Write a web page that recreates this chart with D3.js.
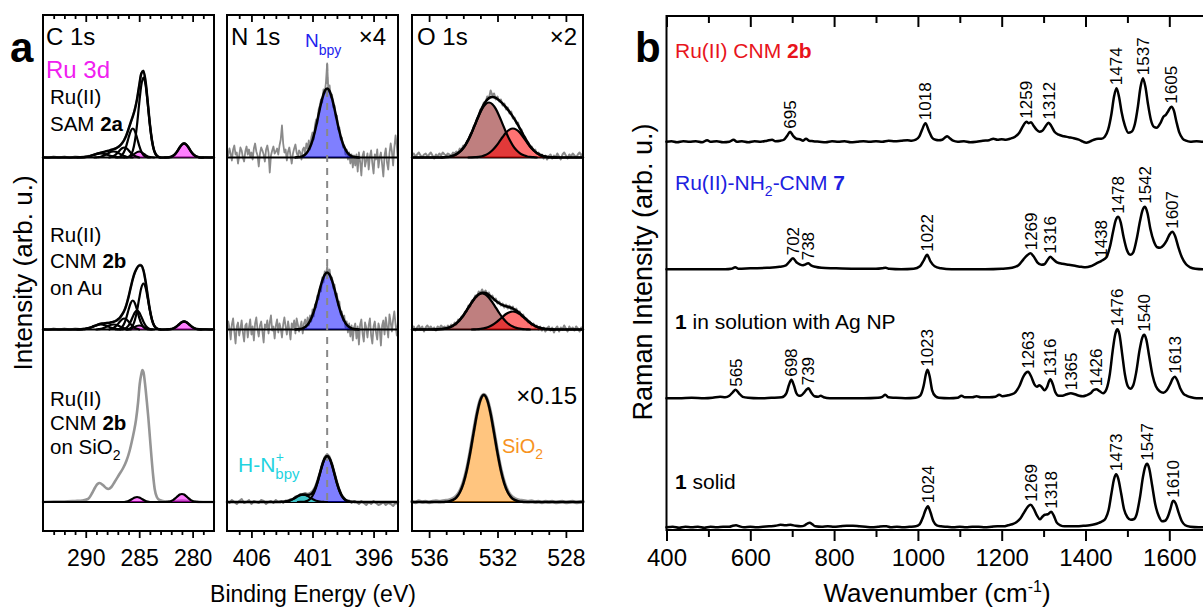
<!DOCTYPE html>
<html>
<head>
<meta charset="utf-8">
<script src="https://cdn.jsdelivr.net/npm/d3@7"></script>
<style>
html,body{margin:0;padding:0;background:#fff;}
svg{display:block;font-family:"Liberation Sans",Arial,Helvetica,sans-serif;}
</style>
</head>
<body>
<svg id="fig" width="1203" height="608"></svg>
<script>
// ================= panel a: XPS (binding energy in eV, intensity in arb. units) =================
const c1sRange = [294, 278], n1sRange = [408, 394], o1sRange = [537, 527];
const c1sTickLabels = [290, 285, 280];
const n1sTickLabels = [406, 401, 396];
const o1sTickLabels = [536, 532, 528];

// --- C 1s, Ru(II) SAM 2a ---
const c1sR1Data = [[294,0.5],[293.5,-0.5],[293,1],[292.5,0],[292,1],[291.5,-0.5],[291,1],[290.5,0.5],[290,1.2],[289.5,2],[289,3.8],[288.5,5.2],[288,6.8],[287.5,8],[287,10.5],[286.5,16],[286,28.5],[285.6,41],[285.2,58.5],[284.8,84],[284.6,87],[284.4,76],[284.0,34],[283.6,7],[283.2,1],[282.8,-0.5],[282.4,0.5],[282,0],[281.6,4],[281.2,10.5],[280.8,14.5],[280.4,10.5],[280,4],[279.6,1],[279.2,-0.5],[278.8,0.5],[278.4,0],[278,0.5]];
const c1sR1Comps = [
  [[283.0,0],[283.2,0.6],[283.4,2.3],[283.6,6.8],[283.8,16.5],[284.0,32.9],[284.2,53.9],[284.4,72.5],[284.6,80],[284.8,72.5],[285.0,53.9],[285.2,32.9],[285.4,16.5],[285.6,6.8],[285.8,2.3],[286.0,0.6],[286.2,0]],
  [[284.0,0],[284.2,0.2],[284.4,0.8],[284.6,2.5],[284.8,6.0],[285.0,11.9],[285.2,19.5],[285.4,26.3],[285.6,29],[285.8,26.3],[286.0,19.5],[286.2,11.9],[286.4,6.0],[286.6,2.5],[286.8,0.8],[287.0,0.2],[287.2,0]],
  [[285.0,0],[285.2,0.6],[285.4,1.4],[285.6,2.8],[285.8,4.9],[286.0,7.3],[286.2,9.2],[286.4,10],[286.6,9.2],[286.8,7.3],[287.0,4.9],[287.2,2.8],[287.4,1.4],[287.6,0.6],[287.8,0]],
  [[285.6,0],[285.8,0.2],[286.0,0.4],[286.2,0.8],[286.4,1.5],[286.6,2.5],[286.8,3.6],[287.0,4.8],[287.2,5.7],[287.4,6],[287.6,5.7],[287.8,4.8],[288.0,3.6],[288.2,2.5],[288.4,1.5],[288.6,0.8],[288.8,0.4],[289.0,0.2],[289.2,0]],
  [[286.4,0],[286.8,0.15],[287.2,0.54],[287.6,1.44],[288.0,2.8],[288.2,3.4],[288.4,3.84],[288.6,4],[288.8,3.84],[289.0,3.4],[289.2,2.8],[289.6,1.44],[290.0,0.54],[290.4,0.15],[290.8,0]]
];
const c1sR1Ru = [
  [[283.6,0],[283.8,0.2],[284.0,0.5],[284.2,1.2],[284.4,2.5],[284.6,4.0],[284.8,5.4],[285.0,6],[285.2,5.4],[285.4,4.0],[285.6,2.5],[285.8,1.2],[286.0,0.5],[286.2,0.2],[286.4,0]],
  [[279.0,0],[279.2,0.1],[279.4,0.3],[279.6,0.8],[279.8,1.9],[280.0,3.9],[280.2,6.8],[280.4,10.2],[280.6,12.9],[280.8,14],[281.0,12.9],[281.2,10.2],[281.4,6.8],[281.6,3.9],[281.8,1.9],[282.0,0.8],[282.2,0.3],[282.4,0.1],[282.6,0]]
];
const c1sR1Env = [[278,0],[279.2,0.1],[279.4,0.3],[279.6,0.8],[279.8,1.9],[280.0,3.9],[280.2,6.8],[280.4,10.2],[280.6,12.9],[280.8,14],[281.0,12.9],[281.2,10.2],[281.4,6.8],[281.6,3.9],[281.8,1.9],[282.0,0.8],[282.2,0.3],[282.4,0.1],[282.8,0],[283.0,0.1],[283.2,0.6],[283.4,2.3],[283.6,6.8],[283.8,16.7],[284.0,33.4],[284.2,55.3],[284.4,75.8],[284.6,86.5],[284.8,83.9],[285.0,71.8],[285.2,58.4],[285.4,48.2],[285.6,41.1],[285.8,34.9],[286.0,28.3],[286.2,22.1],[286.4,17.5],[286.6,14.3],[286.8,11.9],[287.0,10.2],[287.2,9.0],[287.4,8.3],[287.6,7.7],[287.8,6.9],[288.0,6.4],[288.2,5.9],[288.4,5.3],[288.6,4.8],[288.8,4.2],[289.0,3.6],[289.2,2.8],[289.4,2.1],[289.6,1.4],[289.8,0.9],[290.0,0.5],[290.4,0.15],[291,0],[294,0]];

// --- C 1s, Ru(II) CNM 2b on Au ---
const c1sR2Data = [[294,0.5],[293.5,-0.5],[293,1],[292.5,0],[292,1],[291.5,0],[291,1],[290.5,0.5],[290,1.2],[289.5,2.2],[289,4.5],[288.5,6],[288,6.8],[287.5,7.5],[287,10.5],[286.5,16.5],[286,32.5],[285.6,50.5],[285.2,61.5],[284.9,65],[284.6,59.5],[284.4,48],[284.0,20],[283.6,4],[283.2,0.5],[282.8,-0.5],[282.4,0.5],[282,0.5],[281.6,2.5],[281.2,6],[280.8,8.5],[280.4,6],[280,2.5],[279.6,0.5],[279.2,-0.5],[278.8,0.5],[278.4,0],[278,0.5]];
const c1sR2Comps = [
  [[283.0,0],[283.2,0.4],[283.4,1.3],[283.6,3.9],[283.8,9.5],[284.0,18.9],[284.2,31.0],[284.4,41.7],[284.6,46],[284.8,41.7],[285.0,31.0],[285.2,18.9],[285.4,9.5],[285.6,3.9],[285.8,1.3],[286.0,0.4],[286.2,0]],
  [[283.6,0],[283.8,0.15],[284.0,0.5],[284.2,1.6],[284.4,3.9],[284.6,7.8],[284.8,12.8],[285.0,17.2],[285.2,19],[285.4,17.2],[285.6,12.8],[285.8,7.8],[286.0,3.9],[286.2,1.6],[286.4,0.5],[286.6,0.15],[286.8,0]],
  [[284.0,0],[284.2,0.2],[284.4,0.8],[284.6,2.5],[284.8,6.0],[285.0,11.9],[285.2,19.5],[285.4,26.3],[285.6,29],[285.8,26.3],[286.0,19.5],[286.2,11.9],[286.4,6.0],[286.6,2.5],[286.8,0.8],[287.0,0.2],[287.2,0]],
  [[285.0,0],[285.2,0.7],[285.4,1.5],[285.6,3.1],[285.8,5.4],[286.0,8.0],[286.2,10.2],[286.4,11],[286.6,10.2],[286.8,8.0],[287.0,5.4],[287.2,3.1],[287.4,1.5],[287.6,0.7],[287.8,0]],
  [[285.8,0],[286.0,0.3],[286.2,0.7],[286.4,1.2],[286.6,2.1],[286.8,3.0],[287.0,4.0],[287.2,4.7],[287.4,5],[287.6,4.7],[287.8,4.0],[288.0,3.0],[288.2,2.1],[288.4,1.2],[288.6,0.7],[288.8,0.3],[289.0,0]],
  [[286.8,0],[287.0,0.4],[287.2,0.7],[287.4,1.2],[287.6,1.8],[287.8,2.6],[288.0,3.5],[288.2,4.2],[288.4,4.8],[288.6,5],[288.8,4.8],[289.0,4.2],[289.2,3.5],[289.4,2.6],[289.6,1.8],[289.8,1.2],[290.0,0.7],[290.2,0.4],[290.6,0.1],[290.8,0]]
];
const c1sR2Ru = [
  [[283.8,0],[284.0,0.3],[284.2,0.8],[284.4,1.6],[284.6,2.7],[284.8,3.6],[285.0,4],[285.2,3.6],[285.4,2.7],[285.6,1.6],[285.8,0.8],[286.0,0.3],[286.2,0]],
  [[279.2,0],[279.4,0.2],[279.6,0.4],[279.8,1.1],[280.0,2.2],[280.2,3.9],[280.4,5.8],[280.6,7.4],[280.8,8],[281.0,7.4],[281.2,5.8],[281.4,3.9],[281.6,2.2],[281.8,1.1],[282.0,0.4],[282.2,0.2],[282.4,0]]
];
const c1sR2Env = [[278,0],[279.4,0.2],[279.6,0.4],[279.8,1.1],[280.0,2.2],[280.2,3.9],[280.4,5.8],[280.6,7.4],[280.8,8],[281.0,7.4],[281.2,5.8],[281.4,3.9],[281.6,2.2],[281.8,1.1],[282.0,0.4],[282.2,0.2],[282.8,0],[283.0,0.1],[283.2,0.4],[283.4,1.3],[283.6,3.9],[283.8,9.7],[284.0,19.7],[284.2,33.6],[284.4,48.0],[284.6,59.0],[284.8,64.1],[285.0,64.1],[285.2,61.7],[285.4,57.2],[285.6,50.4],[285.8,41.6],[286.0,32.4],[286.2,24.4],[286.4,18.7],[286.6,15.0],[286.8,11.8],[287.0,10.0],[287.2,8.5],[287.4,7.7],[287.6,7.2],[287.8,6.6],[288.0,6.5],[288.2,6.3],[288.4,6.0],[288.6,5.7],[288.8,5.1],[289.0,4.2],[289.2,3.5],[289.4,2.6],[289.6,1.8],[289.8,1.2],[290.0,0.7],[290.2,0.4],[290.6,0.1],[291,0],[294,0]];

// --- C 1s, Ru(II) CNM 2b on SiO2 ---
const c1sR3Data = [[294,0],[293,0.5],[292,0.5],[291,1],[290.3,1.5],[289.8,3],[289.4,9],[289.1,15],[288.9,18],[288.7,19],[288.4,17],[288.1,14],[287.9,13],[287.6,15],[287.3,20],[286.9,27],[286.5,34],[286.2,41],[285.9,51],[285.7,60],[285.5,70],[285.3,82],[285.1,100],[284.95,118],[284.8,128],[284.7,132],[284.6,130],[284.45,118],[284.3,102],[284.15,85],[284.0,65],[283.85,45],[283.7,27],[283.55,13],[283.35,5],[283.1,2],[282.5,0.5],[282,0.5],[281.5,1],[281,1.5],[280.5,1],[280,0.5],[279,0],[278,0]];
const c1sR3Ru = [
  [[284.0,0],[284.2,0.4],[284.4,1.0],[284.6,2.1],[284.8,3.4],[285.0,4.5],[285.2,5],[285.4,4.5],[285.6,3.4],[285.8,2.1],[286.0,1.0],[286.2,0.4],[286.4,0]],
  [[279.4,0],[279.6,0.2],[279.8,0.4],[280.0,1.1],[280.2,2.2],[280.4,3.9],[280.6,5.8],[280.8,7.4],[281.0,8],[281.2,7.4],[281.4,5.8],[281.6,3.9],[281.8,2.2],[282.0,1.1],[282.2,0.4],[282.4,0.2],[282.6,0]]
];

// --- N 1s (measured data on a 0.1 eV / 0.2 eV grid starting at 408 eV) ---
const n1sR1Data = [6,2,9,4,-3,8,12,3,5,-6,2,10,7,0,-4,6,11,3,8,1,
  5,-2,9,14,6,2,-9,4,10,7,3,-4,8,12,5,-15,2,7,11,4,
  6,9,3,12,18,32,14,5,8,-3,6,10,2,-6,4,9,13,5,1,7,
  5,-2,8,10,4,14,9,17,8,20,25,18,32,38,34,48,52,58,55,68,64,75,94,
  66,72,60,63,50,52,40,42,28,30,18,20,10,12,3,8,-2,5,-6,3,-10,2,
  -8,3,-14,5,-4,-18,2,6,-9,-3,4,-12,1,7,-6,-16,3,-2,8,-10,0,5,-7,-19,2,9,-5,-12,4,14,6,-8,10,22,12,-4];
const n1sR2Data = [-4,8,2,-10,5,11,-2,-14,3,7,-6,1,9,-3,-12,4,6,-8,2,10,
  -5,3,-11,6,12,0,-7,4,8,-2,-13,5,2,9,-4,7,14,-1,3,-9,
  4,10,-3,6,1,-8,5,12,3,-5,8,0,-10,6,2,9,-4,11,5,-2,
  3,8,-4,6,10,2,12,4,14,8,20,13,25,22,34,30,42,38,52,47,58,54,63,
  55,60,50,52,41,45,33,36,24,28,15,18,9,14,2,8,-3,6,-7,4,-11,2,
  6,-9,3,-15,5,10,-4,-12,7,2,-8,4,11,-6,-14,3,8,-3,-10,6,1,-16,4,9,-5,12,3,-8,15,7,-2,10,18,5,-6,8];
const n1sR3Data = [1,-1,2,0,-2,1,3,-1,0,2,-2,1,0,-1,2,1,-2,0,1,-1,2,0,
  1,-1,1.5,1.5,3,2.5,5.5,6,8,8,9,8,9,11,15,22,30,39,45,48,45.5,39,30,21,13,7,4,1,1.5,-1,1,
  0,-2,1,-1,-3,0,-2,1,-1,-3,-2,0,-3,-1,-2,-4,-1,-2];
const n1sR1Bpy = [[402.4,0],[402.2,0.3],[402.0,0.6],[401.8,1.4],[401.6,3.0],[401.4,5.9],[401.2,10.4],[401.0,17.2],[400.8,26.3],[400.6,37.2],[400.4,48.8],[400.2,59.1],[400.0,66.4],[399.8,69],[399.6,66.4],[399.4,59.1],[399.2,48.8],[399.0,37.2],[398.8,26.3],[398.6,17.2],[398.4,10.4],[398.2,5.9],[398.0,3.0],[397.8,1.4],[397.6,0.6],[397.4,0.3],[397.2,0]];
const n1sR2Bpy = [[402.4,0],[402.2,0.2],[402.0,0.5],[401.8,1.2],[401.6,2.5],[401.4,4.8],[401.2,8.6],[401.0,14.2],[400.8,21.7],[400.6,30.7],[400.4,40.3],[400.2,48.8],[400.0,54.8],[399.8,57],[399.6,54.8],[399.4,48.8],[399.2,40.3],[399.0,30.7],[398.8,21.7],[398.6,14.2],[398.4,8.6],[398.2,4.8],[398.0,2.5],[397.8,1.2],[397.6,0.5],[397.4,0.2],[397.2,0]];
const n1sR3Bpy = [[402.2,0],[402.0,0.1],[401.8,0.2],[401.6,0.5],[401.4,1.3],[401.2,3.0],[401.0,6.2],[400.8,11.5],[400.6,18.9],[400.4,27.9],[400.2,36.8],[400.0,43.5],[399.8,46],[399.6,43.5],[399.4,36.8],[399.2,27.9],[399.0,18.9],[398.8,11.5],[398.6,6.2],[398.4,3.0],[398.2,1.3],[398.0,0.5],[397.8,0.2],[397.6,0.1],[397.4,0]];
const n1sR3HN = [[403.8,0],[403.6,0.1],[403.4,0.2],[403.2,0.5],[403.0,1.0],[402.8,1.8],[402.6,3.0],[402.4,4.4],[402.2,5.8],[402.0,6.9],[401.8,7.3],[401.6,6.9],[401.4,5.8],[401.2,4.4],[401.0,3.0],[400.8,1.8],[400.6,1.0],[400.4,0.5],[400.2,0.2],[400.0,0.1],[399.8,0]];
const n1sR3Env = [[408,0],[403.8,0],[403.6,0.1],[403.4,0.2],[403.2,0.5],[403.0,1.0],[402.8,1.8],[402.6,3.0],[402.4,4.4],[402.2,5.8],[402.0,7.0],[401.8,7.5],[401.6,7.4],[401.4,7.1],[401.2,7.4],[401.0,9.2],[400.8,13.3],[400.6,19.9],[400.4,28.4],[400.2,37.0],[400.0,43.6],[399.8,46],[399.6,43.5],[399.4,36.8],[399.2,27.9],[399.0,18.9],[398.8,11.5],[398.6,6.2],[398.4,3.0],[398.2,1.3],[398.0,0.5],[397.8,0.2],[397.6,0.1],[397.4,0],[394,0]];
const nBpyPosition = 399.8;

// --- O 1s (measured data on a 0.1 eV / 0.2 eV grid starting at 537 eV) ---
const o1sR1Data = [2,4,1,3,5,2,0,3,4,1, 3,5,2,-1,3,1,4,2,5,3, 2,4,3,2,5,4,6,5,9,8,
  12,11,16,18,23,25,31,33,39,42, 48,49,55,55,61,59,67,62,64,58, 61,56,58,52,54,48,50,44,46,39,
  40,34,35,28,28,22,21,17,15,11, 11,7,8,4,5,1,3,-1,2,-2, 1,3,-1,2,0,4,1,-2,3,5, 2,-1,3,1,4,2,0,3,5,2, 4];
const o1sR2Data = [1,3,-1,2,4,0,3,-2,2,4, 1,3,0,2,-1,3,1,4,2,3, 1,4,2,5,3,7,5,10,9,13,
  13,18,18,24,23,29,29,34,33,38, 36,40,36,39,35,37,32,34,29,31, 26,28,24,26,22,25,21,24,20,23,
  18,21,16,18,13,15,10,11,7,8, 4,6,2,4,0,3,-1,2,-2,1, 3,-1,2,-3,1,3,-2,2,0,4, 1,-2,3,0,2,-1,3,1,-2,2, 0];
const o1sR3Data = [0.5,-0.5,1,0,0.5,-0.5,0.5,1,0.5,1,1.5, 2,3.5,6,11,19.5,32.5,50,70,89,102.5,
  107.5,102.5,89,70,50,32.5,19.5,11,6,3.5, 2,1.5,1,0.5,1,0,0.5,-0.5,0.5,0, 0.5,-0.5,0,0.5,-0.5,0,0.5,-0.5,0,0.5];
const o1sR1Brown = [[535.3,0],[535.1,0.3],[534.9,0.6],[534.7,1.3],[534.5,2.4],[534.3,4.4],[534.1,7.4],[533.9,11.9],[533.7,17.9],[533.5,25.2],[533.3,33.4],[533.1,41.5],[532.9,48.6],[532.7,53.3],[532.5,55],[532.3,53.3],[532.1,48.6],[531.9,41.5],[531.7,33.4],[531.5,25.2],[531.3,17.9],[531.1,11.9],[530.9,7.4],[530.7,4.4],[530.5,2.4],[530.3,1.3],[530.1,0.6],[529.9,0.3],[529.7,0]];
const o1sR1Red = [[533.7,0],[533.5,0.1],[533.3,0.3],[533.1,0.6],[532.9,1.3],[532.7,2.5],[532.5,4.4],[532.3,7.2],[532.1,11.0],[531.9,15.6],[531.7,20.5],[531.5,24.9],[531.3,27.9],[531.1,29],[530.9,27.9],[530.7,24.9],[530.5,20.5],[530.3,15.6],[530.1,11.0],[529.9,7.2],[529.7,4.4],[529.5,2.5],[529.3,1.3],[529.1,0.6],[528.9,0.3],[528.7,0.1],[528.5,0]];
const o1sR1Env = [[537,0],[535.3,0],[535.1,0.3],[534.9,0.6],[534.7,1.3],[534.5,2.4],[534.3,4.4],[534.1,7.4],[533.9,11.9],[533.7,17.9],[533.5,25.3],[533.3,33.7],[533.1,42.1],[532.9,49.9],[532.7,55.8],[532.5,59.4],[532.3,60.5],[532.1,59.6],[531.9,57.1],[531.7,53.9],[531.5,50.1],[531.3,45.8],[531.1,40.9],[530.9,35.3],[530.7,29.3],[530.5,22.9],[530.3,16.9],[530.1,11.6],[529.9,7.5],[529.7,4.4],[529.5,2.5],[529.3,1.3],[529.1,0.6],[528.9,0.3],[528.7,0.1],[528.5,0],[527,0]];
const o1sR2Brown = [[535.7,0],[535.5,0.2],[535.3,0.4],[535.1,0.8],[534.9,1.6],[534.7,2.9],[534.5,4.9],[534.3,7.8],[534.1,11.7],[533.9,16.5],[533.7,21.9],[533.5,27.2],[533.3,31.8],[533.1,34.9],[532.9,36],[532.7,34.9],[532.5,31.8],[532.3,27.2],[532.1,21.9],[531.9,16.5],[531.7,11.7],[531.5,7.8],[531.3,4.9],[531.1,2.9],[530.9,1.6],[530.7,0.8],[530.5,0.4],[530.3,0.2],[530.1,0]];
const o1sR2Red = [[533.5,0],[533.3,0.2],[533.1,0.4],[532.9,0.8],[532.7,1.6],[532.5,2.7],[532.3,4.5],[532.1,6.8],[531.9,9.7],[531.7,12.7],[531.5,15.5],[531.3,17.3],[531.1,18],[530.9,17.3],[530.7,15.5],[530.5,12.7],[530.3,9.7],[530.1,6.8],[529.9,4.5],[529.7,2.7],[529.5,1.6],[529.3,0.8],[529.1,0.4],[528.9,0.2],[528.7,0]];
const o1sR2Env = [[537,0],[535.7,0],[535.5,0.2],[535.3,0.4],[535.1,0.8],[534.9,1.6],[534.7,2.9],[534.5,4.9],[534.3,7.8],[534.1,11.7],[533.9,16.5],[533.7,21.9],[533.5,27.2],[533.3,32.0],[533.1,35.3],[532.9,36.8],[532.7,36.5],[532.5,34.5],[532.3,31.7],[532.1,28.7],[531.9,26.2],[531.7,24.4],[531.5,23.3],[531.3,22.2],[531.1,20.9],[530.9,18.9],[530.7,16.3],[530.5,13.1],[530.3,9.9],[530.1,6.8],[529.9,4.5],[529.7,2.7],[529.5,1.6],[529.3,0.8],[529.1,0.4],[528.9,0.2],[528.7,0],[527,0]];
const o1sR3SiO2 = [[537,0],[535.2,0],[535.0,0.3],[534.8,0.8],[534.6,2.1],[534.4,4.7],[534.2,9.8],[534.0,18.4],[533.8,31.6],[533.6,49.0],[533.4,68.9],[533.2,88.1],[533.0,101.9],[532.8,107],[532.6,101.9],[532.4,88.1],[532.2,68.9],[532.0,49.0],[531.8,31.6],[531.6,18.4],[531.4,9.8],[531.2,4.7],[531.0,2.1],[530.8,0.8],[530.6,0.3],[530.4,0],[527,0]];

// ================= panel b: Raman (wavenumber in cm^-1, intensity in arb. units) =================
const ramanRange = [400, 1700];
const ramanTickLabels = [400, 600, 800, 1000, 1200, 1400, 1600];
const ramanCNM2b = [[400,0],[412,0.5],[425,-0.5],[440,0.5],[455,0],[470,0.5],[485,-0.5],[497,1.5],[505,0],[520,0.5],[535,-0.5],[550,0],[560,2],[568,0],[580,0.5],[595,-0.5],[610,0.5],[625,0],[640,1],[652,2],[660,0.5],[672,1],[680,2],[688,6],[695,10],[702,6],[710,3],[718,2.5],[726,1],[733,3],[740,1],[750,0.5],[765,0],[780,-0.5],[795,0.5],[810,0],[825,0.5],[840,-0.5],[855,0],[870,0.5],[885,0],[900,0.5],[915,0],[930,1],[945,0.5],[960,1],[975,1.5],[985,1],[995,2],[1003,5],[1010,12],[1018,18.5],[1026,11],[1034,4],[1042,2],[1050,1.5],[1058,2],[1064,4],[1070,5.5],[1076,3.5],[1084,1],[1095,0],[1110,0.5],[1125,-0.5],[1140,0],[1155,1],[1170,1.5],[1180,3],[1190,2],[1200,2.5],[1210,2],[1220,3],[1232,5],[1242,9],[1250,15],[1255,18.5],[1259,20],[1264,18.5],[1270,19.5],[1276,16],[1283,12],[1290,10],[1297,11],[1304,15],[1312,19],[1318,16],[1326,10],[1336,7],[1348,5.5],[1360,4.5],[1372,3.5],[1384,2],[1394,0],[1402,-1],[1410,0],[1420,2],[1430,3],[1438,3],[1446,5],[1454,12],[1462,28],[1468,45],[1474,53.5],[1480,45],[1486,30],[1494,16],[1502,9],[1510,10],[1518,18],[1525,35],[1531,54],[1537,63.5],[1543,55],[1549,38],[1556,22],[1563,15],[1570,14],[1578,18],[1586,25],[1592,27],[1598,31],[1605,35],[1611,31],[1617,20],[1624,9],[1632,3],[1640,1],[1650,0],[1665,0.5],[1680,0],[1700,0]];
const ramanNH2CNM7 = [[400,0],[450,0],[500,0],[540,0],[555,0.5],[564,2],[572,0.5],[600,1],[640,1.5],[670,2.5],[685,4],[694,8],[702,11],[710,7],[718,5],[726,4],[732,5],[738,6],[745,4],[755,2.5],[770,1.5],[800,1],[850,0.5],[900,0.5],[915,1],[923,1.5],[932,0.5],[960,0],[990,0.5],[1005,3],[1014,9],[1022,14.5],[1030,8],[1040,3],[1055,1],[1080,0],[1120,0],[1160,0],[1200,0.5],[1225,1.5],[1240,4],[1252,10],[1261,14],[1269,16],[1276,13],[1285,7],[1295,4.5],[1302,5],[1309,9],[1316,12.5],[1323,10],[1332,7],[1345,5.5],[1360,4.5],[1375,3.5],[1390,2.5],[1400,2],[1412,3],[1422,5],[1431,7],[1438,8.5],[1450,12],[1458,22],[1466,38],[1472,49],[1478,52.5],[1484,47],[1491,32],[1499,19],[1507,14.5],[1514,17],[1522,30],[1530,48],[1536,59],[1542,62.5],[1548,56],[1555,40],[1563,28],[1571,22],[1578,21.5],[1586,24],[1594,29],[1601,35],[1607,37.5],[1614,33],[1621,23],[1630,12],[1640,5],[1650,2],[1662,0.5],[1680,0],[1700,0]];
const ramanSolutionAg = [[400,0],[430,0],[460,0.5],[490,0],[510,0.5],[528,1.5],[540,1],[550,2.5],[558,6],[565,8.5],[573,5],[582,1.5],[595,0.5],[620,0],[650,0.5],[675,1],[686,5],[692,13],[698,18.5],[704,13],[710,5],[716,2.5],[722,3],[729,6],[735,9],[739,10],[745,6],[753,2],[762,1.5],[768,2.5],[775,1],[790,0],[830,0],[870,0],[905,0.5],[915,1.5],[922,3.5],[930,1],[945,0.5],[970,0],[995,0.5],[1006,3],[1014,13],[1019,24],[1023,28.5],[1028,22],[1034,8],[1042,2],[1050,0.5],[1075,0],[1095,0.5],[1104,2.5],[1112,1],[1130,1],[1140,2],[1150,1],[1170,1],[1185,1.5],[1194,3.5],[1202,2],[1215,3],[1230,5],[1242,12],[1252,22],[1258,25.5],[1263,26.5],[1270,22],[1278,14],[1284,11.5],[1290,13],[1296,11],[1302,8],[1308,11],[1313,17],[1316,19],[1322,14],[1328,6],[1336,2.5],[1345,2.5],[1355,4],[1365,5],[1375,4],[1385,2.5],[1393,2],[1402,3],[1412,5],[1420,8.5],[1426,9],[1434,7],[1442,5],[1450,9],[1458,24],[1465,48],[1471,64],[1476,69],[1481,64],[1487,46],[1494,24],[1501,12],[1507,9.5],[1514,13],[1521,26],[1529,48],[1535,60],[1540,63.5],[1545,59],[1552,42],[1560,23],[1568,12],[1577,7],[1586,5.5],[1594,8],[1602,14],[1608,19.5],[1613,21.5],[1619,18],[1626,10],[1634,4.5],[1642,2.5],[1652,1],[1665,0],[1700,0]];
const ramanSolid = [[400,0],[415,0.5],[430,-0.5],[445,0.5],[460,0],[475,0.5],[490,-0.5],[505,0.5],[520,0],[535,0.5],[550,0.5],[558,1.5],[566,2],[574,1],[585,0],[600,0.5],[615,0],[630,0.5],[645,1],[660,1.5],[672,2.5],[684,2],[696,2.5],[708,1.5],[720,1],[730,2],[737,4],[742,4.5],[748,3],[755,1],[770,0.5],[785,1],[800,0.5],[815,1],[830,1.5],[845,1.5],[860,1],[875,0.5],[890,0],[905,0.5],[918,1],[925,1],[935,0],[950,0.5],[965,0],[980,0.5],[995,1],[1004,3],[1012,10],[1018,17],[1024,21],[1030,15],[1037,6],[1045,2],[1055,1],[1070,0.5],[1085,0],[1100,0.5],[1115,0],[1130,0.5],[1145,0.5],[1160,0],[1175,0.5],[1190,1],[1205,1],[1215,2],[1225,3],[1235,5],[1245,9],[1255,16],[1263,21],[1269,22.5],[1276,19],[1284,12],[1291,8],[1297,10.5],[1303,12.5],[1310,13],[1318,15.5],[1324,12],[1331,5],[1340,2],[1350,1],[1365,1],[1380,1],[1395,1.5],[1410,2],[1422,3],[1432,4.5],[1440,6],[1448,9],[1455,17],[1462,34],[1468,48],[1473,53],[1478,49],[1485,34],[1492,18],[1500,10],[1508,7.5],[1515,8],[1522,13],[1530,30],[1537,50],[1542,60],[1547,63.5],[1552,59],[1559,42],[1567,22],[1575,11],[1583,6],[1590,6.5],[1597,11],[1603,19],[1607,25],[1610,26.5],[1615,24],[1622,15],[1630,6],[1638,2],[1650,0.5],[1670,0],[1700,0]];
const ramanPeakLabels = [
  [695, 1018, 1259, 1312, 1474, 1537, 1605],
  [702, 738, 1022, 1269, 1316, 1438, 1478, 1542, 1607],
  [565, 698, 739, 1023, 1263, 1316, 1365, 1426, 1476, 1540, 1613],
  [1024, 1269, 1318, 1473, 1547, 1610]
];

// ================= drawing =================
const svg = d3.select("#fig");
const FONT = '"Liberation Sans",Arial,Helvetica,sans-serif';
const GRAY = "#8a8a8a";

// grid-sampled data -> [x, y] pairs
const onGrid = (start, step, vals) => vals.map((v, i) => [+(start - i * step).toFixed(2), v]);

function sorted(x, data) { return data.slice().sort((a, b) => x(a[0]) - x(b[0])); }
function drawLine(g, x, y, data, stroke, width, curve) {
  g.append("path")
    .attr("d", d3.line().x(p => x(p[0])).y(p => y(p[1])).curve(curve || d3.curveMonotoneX)(sorted(x, data)))
    .attr("fill", "none").attr("stroke", stroke).attr("stroke-width", width)
    .attr("stroke-linejoin", "round").attr("stroke-linecap", "round");
}
function drawArea(g, x, y, data, fill) {
  g.append("path")
    .attr("d", d3.area().x(p => x(p[0])).y0(y(0)).y1(p => y(p[1])).curve(d3.curveMonotoneX)(sorted(x, data)))
    .attr("fill", fill).attr("stroke", "none");
}

// ---------- panel a layout ----------
const PA = { top: 15, bottom: 531, base: [157.5, 329.5, 502] };
const colsA = [
  { x0: 43, x1: 214, dom: c1sRange, labels: c1sTickLabels },
  { x0: 227, x1: 398, dom: n1sRange, labels: n1sTickLabels },
  { x0: 412, x1: 583, dom: o1sRange, labels: o1sTickLabels }
];
colsA.forEach(c => { c.x = d3.scaleLinear().domain(c.dom).range([c.x0, c.x1]); });
const yRow = PA.base.map(b => d3.scaleLinear().domain([0, 100]).range([b, b - 100]));

const layGray = svg.append("g"), layBase = svg.append("g"), layFill = svg.append("g"),
      layDash = svg.append("g"), layLine = svg.append("g"), layFrame = svg.append("g"), layText = svg.append("g");

// C 1s
{
  const x = colsA[0].x;
  drawLine(layGray, x, yRow[0], c1sR1Data, GRAY, 2);
  c1sR1Ru.forEach(d => { drawArea(layFill, x, yRow[0], d, "rgba(255,0,255,0.5)"); drawLine(layLine, x, yRow[0], d, "#000", 2); });
  c1sR1Comps.forEach(d => drawLine(layLine, x, yRow[0], d, "#000", 2.2));
  drawLine(layLine, x, yRow[0], c1sR1Env, "#000", 2.5);
  drawLine(layGray, x, yRow[1], c1sR2Data, GRAY, 2);
  c1sR2Ru.forEach(d => { drawArea(layFill, x, yRow[1], d, "rgba(255,0,255,0.5)"); drawLine(layLine, x, yRow[1], d, "#000", 2); });
  c1sR2Comps.forEach(d => drawLine(layLine, x, yRow[1], d, "#000", 2.2));
  drawLine(layLine, x, yRow[1], c1sR2Env, "#000", 2.5);
  drawLine(layGray, x, yRow[2], c1sR3Data, "#959595", 2.6);
  c1sR3Ru.forEach(d => { drawArea(layFill, x, yRow[2], d, "rgba(255,0,255,0.5)"); drawLine(layLine, x, yRow[2], d, "#000", 2.2); });
}
// N 1s
{
  const x = colsA[1].x;
  drawLine(layGray, x, yRow[0], onGrid(408, 0.1, n1sR1Data), GRAY, 1.8, d3.curveLinear);
  drawArea(layFill, x, yRow[0], n1sR1Bpy, "rgba(0,0,255,0.5)");
  drawLine(layLine, x, yRow[0], n1sR1Bpy, "#000", 2.5);
  drawLine(layGray, x, yRow[1], onGrid(408, 0.1, n1sR2Data), GRAY, 1.8, d3.curveLinear);
  drawArea(layFill, x, yRow[1], n1sR2Bpy, "rgba(0,0,255,0.5)");
  drawLine(layLine, x, yRow[1], n1sR2Bpy, "#000", 2.5);
  drawLine(layGray, x, yRow[2], onGrid(408, 0.2, n1sR3Data), GRAY, 2, d3.curveLinear);
  drawArea(layFill, x, yRow[2], n1sR3Bpy, "rgba(0,0,255,0.5)");
  drawArea(layFill, x, yRow[2], n1sR3HN, "#3fc3c8");
  drawLine(layLine, x, yRow[2], n1sR3HN, "#000", 2);
  drawLine(layLine, x, yRow[2], n1sR3Bpy, "#000", 2.2);
  drawLine(layLine, x, yRow[2], n1sR3Env, "#000", 2.5);
  layDash.append("line").attr("x1", x(nBpyPosition)).attr("x2", x(nBpyPosition))
    .attr("y1", 64).attr("y2", PA.base[2])
    .attr("stroke", "#888").attr("stroke-width", 2).attr("stroke-dasharray", "7,6");
}
// O 1s
{
  const x = colsA[2].x;
  drawLine(layGray, x, yRow[0], onGrid(537, 0.1, o1sR1Data), GRAY, 2, d3.curveLinear);
  drawArea(layFill, x, yRow[0], o1sR1Brown, "rgba(128,0,0,0.5)");
  drawArea(layFill, x, yRow[0], o1sR1Red, "rgba(255,0,0,0.55)");
  drawLine(layLine, x, yRow[0], o1sR1Brown, "#000", 2.2);
  drawLine(layLine, x, yRow[0], o1sR1Red, "#000", 2.2);
  drawLine(layLine, x, yRow[0], o1sR1Env, "#000", 2.5);
  drawLine(layGray, x, yRow[1], onGrid(537, 0.1, o1sR2Data), GRAY, 2, d3.curveLinear);
  drawArea(layFill, x, yRow[1], o1sR2Brown, "rgba(128,0,0,0.5)");
  drawArea(layFill, x, yRow[1], o1sR2Red, "rgba(255,0,0,0.55)");
  drawLine(layLine, x, yRow[1], o1sR2Brown, "#000", 2.2);
  drawLine(layLine, x, yRow[1], o1sR2Red, "#000", 2.2);
  drawLine(layLine, x, yRow[1], o1sR2Env, "#000", 2.5);
  drawLine(layGray, x, yRow[2], onGrid(537, 0.2, o1sR3Data), "#9a9a9a", 3.5);
  drawArea(layFill, x, yRow[2], o1sR3SiO2, "rgba(255,140,0,0.5)");
  drawLine(layLine, x, yRow[2], o1sR3SiO2, "#000", 2.5);
}

// baselines, frames and ticks of panel a
colsA.forEach(c => {
  PA.base.forEach(b => layBase.append("line").attr("x1", c.x0).attr("x2", c.x1).attr("y1", b).attr("y2", b)
    .attr("stroke", "#000").attr("stroke-width", 2));
  layFrame.append("rect").attr("x", c.x0).attr("y", PA.top).attr("width", c.x1 - c.x0).attr("height", PA.bottom - PA.top)
    .attr("fill", "none").attr("stroke", "#000").attr("stroke-width", 2);
  const lo = Math.min(...c.dom), hi = Math.max(...c.dom);
  const minor = d3.range(Math.ceil(lo), hi + 0.001, 1).filter(v => !c.labels.includes(v) && v > lo && v < hi);
  [PA.top, PA.bottom].forEach((yy, k) => {
    const gm = layFrame.append("g").attr("transform", `translate(0,${yy})`)
      .call(d3.axisBottom(c.x).tickValues(minor).tickSize(4).tickFormat(""));
    gm.select(".domain").remove();
    gm.selectAll("line").attr("stroke-width", 1.8);
    const gM = layFrame.append("g").attr("transform", `translate(0,${yy})`)
      .call(d3.axisBottom(c.x).tickValues(c.labels).tickSize(7).tickPadding(11.5).tickFormat(k ? d3.format("d") : ""));
    gM.select(".domain").remove();
    gM.selectAll("line").attr("stroke-width", 1.8);
    gM.attr("font-family", FONT).attr("font-size", 23);
    gM.selectAll("text").attr("fill", "#000");
  });
});

// ---------- panel a texts ----------
function txt(g, x, y, size, color, parts, anchor) {
  const t = g.append("text").attr("x", x).attr("y", y).attr("font-size", size).attr("fill", color)
    .attr("text-anchor", anchor || "start");
  parts.forEach(p => {
    const s = t.append("tspan").text(p.t);
    if (p.b) s.attr("font-weight", "bold");
    if (p.dy) s.attr("dy", p.dy);
    if (p.fs) s.attr("font-size", p.fs);
  });
  return t;
}
txt(layText, 10, 62, 42, "#000", [{ t: "a", b: 1 }]);
txt(layText, 46, 45, 24, "#000", [{ t: "C 1s" }]);
txt(layText, 46, 78, 24, "#f020f0", [{ t: "Ru 3d" }]);
txt(layText, 50, 104, 20.5, "#000", [{ t: "Ru(II)" }]);
txt(layText, 50, 131, 20.5, "#000", [{ t: "SAM " }, { t: "2a", b: 1 }]);
txt(layText, 50, 242, 20.5, "#000", [{ t: "Ru(II)" }]);
txt(layText, 50, 268, 20.5, "#000", [{ t: "CNM " }, { t: "2b", b: 1 }]);
txt(layText, 50, 295, 20.5, "#000", [{ t: "on Au" }]);
txt(layText, 50, 406, 20.5, "#000", [{ t: "Ru(II)" }]);
txt(layText, 50, 430, 20.5, "#000", [{ t: "CNM " }, { t: "2b", b: 1 }]);
txt(layText, 50, 454, 20.5, "#000", [{ t: "on SiO" }, { t: "2", fs: 14, dy: 6 }]);
txt(layText, 231, 45, 24, "#000", [{ t: "N 1s" }]);
txt(layText, 386, 45, 24, "#000", [{ t: "×4" }], "end");
txt(layText, 305, 47, 19, "#2222ee", [{ t: "N" }, { t: "bpy", fs: 14, dy: 8 }]);
{
  const t = txt(layText, 238, 472, 21, "#1fd3e0", [{ t: "H-N" }]);
  const w = t.node().getComputedTextLength();
  txt(layText, 238 + w + 0.5, 462, 14, "#1fd3e0", [{ t: "+" }]);
  txt(layText, 238 + w, 479, 15, "#1fd3e0", [{ t: "bpy" }]);
}
txt(layText, 417, 45, 24, "#000", [{ t: "O 1s" }]);
txt(layText, 577, 45, 24, "#000", [{ t: "×2" }], "end");
txt(layText, 577, 404, 24, "#000", [{ t: "×0.15" }], "end");
txt(layText, 502, 453, 20, "#f7931e", [{ t: "SiO" }, { t: "2", fs: 14, dy: 6 }]);
layText.append("text").attr("transform", "translate(32,273) rotate(-90)").attr("text-anchor", "middle")
  .attr("font-size", 26).text("Intensity (arb. u.)");
layText.append("text").attr("x", 313).attr("y", 602).attr("text-anchor", "middle")
  .attr("font-size", 23).text("Binding Energy (eV)");

// ---------- panel b ----------
const PB = { left: 666.5, right: 1211.2, top: 16, bottom: 530, base: [141.7, 269.3, 398.3, 527.3] };
const xR = d3.scaleLinear().domain(ramanRange).range([PB.left, PB.right]);
const yR = PB.base.map(b => d3.scaleLinear().domain([0, 100]).range([b, b - 100]));
const ramanSpectra = [ramanCNM2b, ramanNH2CNM7, ramanSolutionAg, ramanSolid];
const gB = svg.append("g");
ramanSpectra.forEach((s, i) => {
  drawLine(gB, xR, yR[i], s, "#000", 2.5);
  ramanPeakLabels[i].forEach(wn => {
    const p = s.reduce((a, b) => Math.abs(b[0] - wn) < Math.abs(a[0] - wn) ? b : a);
    gB.append("text").attr("transform", `translate(${xR(wn)},${yR[i](p[1]) - 3}) rotate(-90)`)
      .attr("dy", "0.35em").attr("font-size", 17).attr("fill", "#000").text(wn);
  });
});
gB.append("path").attr("d", `M${PB.right},${PB.top}H${PB.left}V${PB.bottom}H${PB.right}`)
  .attr("fill", "none").attr("stroke", "#000").attr("stroke-width", 2);
{
  const minor = d3.range(500, 1701, 100).filter(v => !ramanTickLabels.includes(v));
  [[PB.top, false], [PB.bottom, true]].forEach(([yy, lab]) => {
    const gm = gB.append("g").attr("transform", `translate(0,${yy})`)
      .call(d3.axisBottom(xR).tickValues(minor).tickSize(7).tickFormat(""));
    gm.select(".domain").remove();
    gm.selectAll("line").attr("stroke-width", 2);
    const gM = gB.append("g").attr("transform", `translate(0,${yy})`)
      .call(d3.axisBottom(xR).tickValues(ramanTickLabels).tickSize(11).tickPadding(8).tickFormat(lab ? d3.format("d") : ""));
    gM.select(".domain").remove();
    gM.selectAll("line").attr("stroke-width", 2);
    gM.attr("font-family", FONT).attr("font-size", 24);
    gM.selectAll("text").attr("fill", "#000");
  });
}
txt(gB, 635, 62, 42, "#000", [{ t: "b", b: 1 }]);
txt(gB, 675, 58, 21, "#e8141c", [{ t: "Ru(II) CNM " }, { t: "2b", b: 1 }]);
txt(gB, 675, 190, 21, "#2020e0", [{ t: "Ru(II)-NH" }, { t: "2", fs: 14, dy: 6 }, { t: "-CNM ", dy: -6 }, { t: "7", b: 1 }]);
txt(gB, 675, 329, 21, "#000", [{ t: "1", b: 1 }, { t: " in solution with Ag NP" }]);
txt(gB, 675, 489, 21, "#000", [{ t: "1", b: 1 }, { t: " solid" }]);
gB.append("text").attr("transform", "translate(652,272) rotate(-90)").attr("text-anchor", "middle")
  .attr("font-size", 27).text("Raman Intensity (arb. u.)");
txt(gB, 937, 602, 26, "#000", [{ t: "Wavenumber (cm" }, { t: "-1", fs: 16, dy: -10 }, { t: ")", dy: 10 }], "middle");
svg.selectAll("text").attr("font-family", FONT);
</script>
</body>
</html>
